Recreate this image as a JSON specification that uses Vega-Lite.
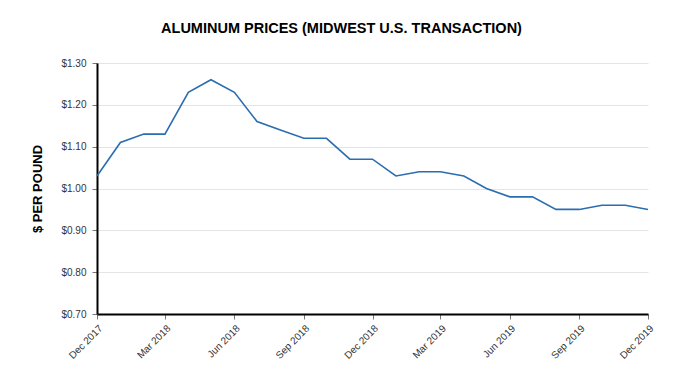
{
  "$schema": "https://vega.github.io/schema/vega-lite/v6.json",
  "width": 551,
  "height": 251,
  "autosize": {"type": "none"},
  "padding": {"left": 97, "top": 63, "right": 34, "bottom": 78},
  "background": "white",
  "title": {
    "text": "ALUMINUM PRICES (MIDWEST U.S. TRANSACTION)",
    "font": "Liberation Sans",
    "fontSize": 14.5,
    "fontWeight": "bold",
    "color": "#000000",
    "anchor": "middle",
    "dx": -31,
    "offset": 22
  },
  "config": {
    "view": {"stroke": null},
    "font": "Liberation Sans"
  },
  "data": {
    "values": [
      {"date": "2017-12-01", "price": 1.03},
      {"date": "2018-01-01", "price": 1.11},
      {"date": "2018-02-01", "price": 1.13},
      {"date": "2018-03-01", "price": 1.13},
      {"date": "2018-04-01", "price": 1.23},
      {"date": "2018-05-01", "price": 1.26},
      {"date": "2018-06-01", "price": 1.23},
      {"date": "2018-07-01", "price": 1.16},
      {"date": "2018-08-01", "price": 1.14},
      {"date": "2018-09-01", "price": 1.12},
      {"date": "2018-10-01", "price": 1.12},
      {"date": "2018-11-01", "price": 1.07},
      {"date": "2018-12-01", "price": 1.07},
      {"date": "2019-01-01", "price": 1.03},
      {"date": "2019-02-01", "price": 1.04},
      {"date": "2019-03-01", "price": 1.04},
      {"date": "2019-04-01", "price": 1.03},
      {"date": "2019-05-01", "price": 1.00},
      {"date": "2019-06-01", "price": 0.98},
      {"date": "2019-07-01", "price": 0.98},
      {"date": "2019-08-01", "price": 0.95},
      {"date": "2019-09-01", "price": 0.95},
      {"date": "2019-10-01", "price": 0.96},
      {"date": "2019-11-01", "price": 0.96},
      {"date": "2019-12-01", "price": 0.95}
    ]
  },
  "mark": {"type": "line", "color": "#2a6db0", "strokeWidth": 1.6},
  "encoding": {
    "x": {
      "field": "date",
      "type": "temporal",
      "scale": {"type": "utc", "domain": ["2017-12-01", "2019-12-01"]},
      "axis": {
        "title": null,
        "format": "%b %Y",
        "values": [
          {"year": 2017, "month": 12, "date": 1, "utc": true},
          {"year": 2018, "month": 3, "date": 1, "utc": true},
          {"year": 2018, "month": 6, "date": 1, "utc": true},
          {"year": 2018, "month": 9, "date": 1, "utc": true},
          {"year": 2018, "month": 12, "date": 1, "utc": true},
          {"year": 2019, "month": 3, "date": 1, "utc": true},
          {"year": 2019, "month": 6, "date": 1, "utc": true},
          {"year": 2019, "month": 9, "date": 1, "utc": true},
          {"year": 2019, "month": 12, "date": 1, "utc": true}
        ],
        "labelAngle": -45,
        "labelFontSize": 10,
        "labelColor": "#333333",
        "labelPadding": 4,
        "labelFlush": false,
        "labelOverlap": false,
        "grid": false,
        "domainColor": "#000000",
        "domainWidth": 2,
        "tickColor": "#777777",
        "tickSize": 5
      }
    },
    "y": {
      "field": "price",
      "type": "quantitative",
      "scale": {"domain": [0.7, 1.3], "nice": false, "zero": false},
      "axis": {
        "title": "$ PER POUND",
        "titleFont": "Liberation Sans",
        "titleFontSize": 13,
        "titleFontWeight": "bold",
        "titleColor": "#000000",
        "titlePadding": 16,
        "values": [0.7, 0.8, 0.9, 1.0, 1.1, 1.2, 1.3],
        "format": "$.2f",
        "labelFontSize": 10,
        "labelColor": "#333333",
        "labelPadding": 6,
        "labelFlush": false,
        "gridColor": "#e4e4e4",
        "gridWidth": 1,
        "domainColor": "#000000",
        "domainWidth": 2,
        "tickColor": "#777777",
        "tickSize": 5
      }
    }
  }
}
